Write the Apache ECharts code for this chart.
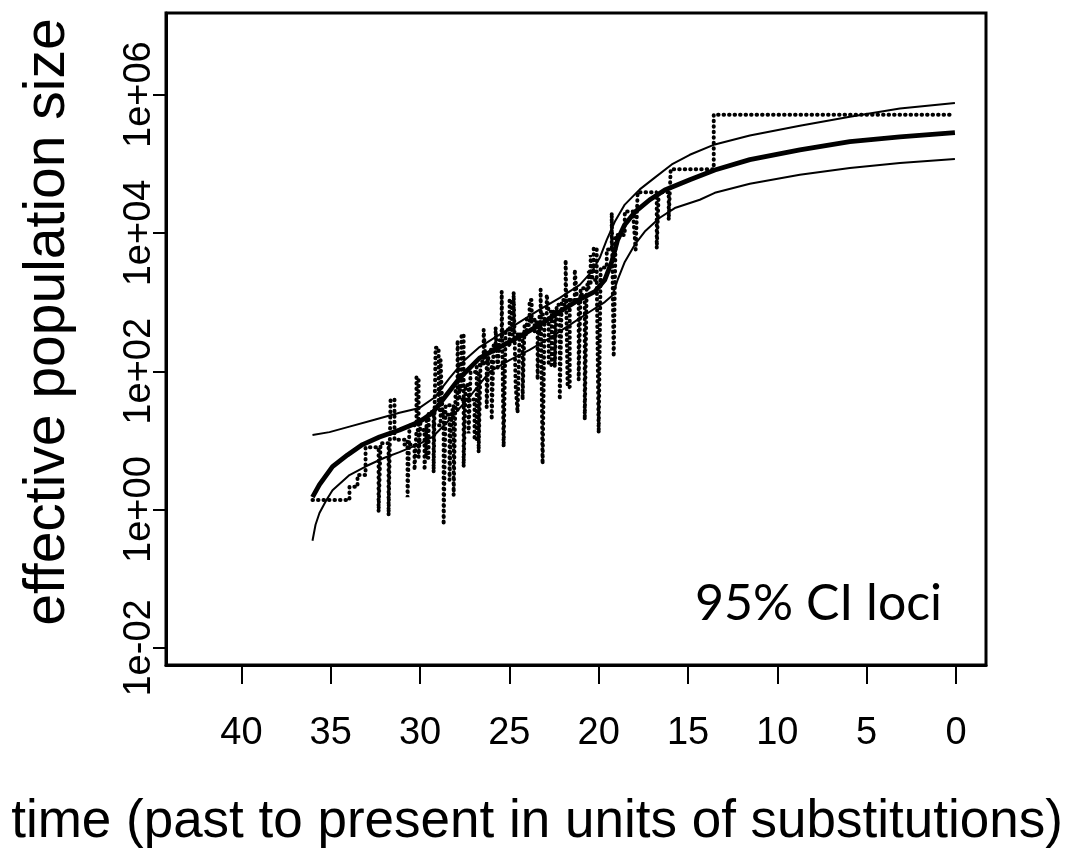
<!DOCTYPE html>
<html><head><meta charset="utf-8">
<script src="https://cdn.jsdelivr.net/npm/echarts@6/dist/echarts.min.js"></script>
<style>html,body{margin:0;padding:0;background:#fff}#c{width:1072px;height:849px}</style>
</head><body><div id="c"></div>
<script>
// x: time (past to present, substitutions); y: log10(effective population size)
const xTicks = [0, 5, 10, 15, 20, 25, 30, 35, 40];
const yTickExp = [-2, 0, 2, 4, 6];
const yTickLabels = ['1e-02', '1e+00', '1e+02', '1e+04', '1e+06'];

const medianT   = [36.02,35.63,34.9,34.06,33.22,32.27,31.15,30.03,29.3,28.63,27.79,26.67,25.55,24.43,23.31,22.18,21.06,20.22,19.66,19.27,18.94,18.54,17.98,17.14,16.3,14.9,13.5,11.54,8.74,5.94,3.14,0.06];
const medianLog = [0.18,0.36,0.62,0.79,0.94,1.05,1.15,1.27,1.40,1.62,1.90,2.19,2.35,2.50,2.67,2.86,3.04,3.15,3.32,3.58,3.90,4.12,4.30,4.48,4.62,4.77,4.91,5.06,5.20,5.32,5.39,5.45];

const upperT   = [36.02,35.07,33.95,32.55,31.15,30.03,29.19,28.35,27.51,26.67,25.55,24.43,23.31,22.18,21.06,20.39,19.94,19.55,19.1,18.54,17.7,16.86,15.91,14.9,13.5,11.54,8.74,5.94,3.14,0.06];
const upperLog = [1.08,1.12,1.20,1.30,1.40,1.47,1.62,1.90,2.16,2.35,2.53,2.71,2.89,3.06,3.25,3.44,3.64,3.90,4.16,4.41,4.63,4.80,4.99,5.13,5.28,5.41,5.55,5.68,5.80,5.88];

const lowerT   = [36.02,35.85,35.63,35.24,34.9,33.95,33.0,31.99,31.15,30.03,29.3,28.35,27.23,26.11,24.99,23.87,22.75,21.62,20.5,19.66,19.22,18.94,18.54,17.98,17.42,16.58,15.74,14.34,13.5,11.54,8.74,5.94,3.14,0.06];
const lowerLog = [-0.45,-0.22,-0.05,0.14,0.28,0.50,0.63,0.75,0.83,0.95,1.05,1.30,1.63,1.99,2.16,2.31,2.48,2.67,2.86,3.00,3.10,3.32,3.58,3.83,4.02,4.22,4.36,4.48,4.58,4.71,4.84,4.94,5.01,5.07];

// skyline (step) estimates: each value holds until the next time point
const skyT   = [36.02,33.95,33.5,33.05,32.32,32.21,31.76,31.65,31.43,30.7,30.59,30.2,30.08,29.97,29.64,29.52,29.24,29.13,28.96,28.68,28.57,28.12,28.01,27.68,27.56,27.45,27.28,27.17,26.72,26.61,26.27,26.16,25.77,25.66,25.55,25.43,25.32,25.21,24.76,24.65,24.54,24.43,24.03,23.59,23.25,23.14,23.03,22.8,22.63,22.46,22.35,21.85,21.74,21.62,21.12,21.01,20.56,20.28,20.11,20.0,19.89,19.55,19.27,19.16,19.05,18.54,18.04,17.93,17.82,16.75,16.64,16.08,15.97,13.56,0.34];
const skyLog = [0.14,0.33,0.50,0.90,-0.03,0.96,-0.08,1.59,1.01,0.18,1.22,1.91,0.76,1.30,0.75,1.41,0.54,2.34,1.44,-0.22,1.51,0.21,1.73,2.53,0.62,1.80,1.10,1.99,0.83,2.14,1.48,2.31,2.63,2.02,2.45,3.15,0.91,2.60,3.14,1.80,1.40,2.53,2.77,2.57,3.18,0.66,2.77,2.09,2.86,2.06,2.96,3.61,1.77,3.03,1.88,3.20,3.44,3.78,3.32,1.11,3.50,3.76,4.29,2.21,3.97,4.31,4.15,3.76,4.59,3.78,4.59,4.19,4.92,5.71,5.71];

const sky2T   = [30.87,30.31,30.2,29.75,29.64,28.85,28.74,28.35,28.24,27.9,27.79,26.95,26.83,26.44,26.33,25.99,25.88,24.99,24.87,24.26,24.15,23.87,23.75,23.42,23.31,22.91,22.8,22.18,22.07,21.34,21.23,20.78,20.67,20.45,20.34,19.83];
const sky2Log = [0.94,0.57,1.15,0.57,1.22,2.16,1.37,0.43,1.44,2.45,1.59,1.01,2.09,2.60,2.16,1.30,2.38,3.03,2.53,1.59,2.67,3.03,2.71,1.88,2.82,3.11,2.86,1.59,3.03,3.47,3.11,1.30,3.25,3.68,3.32,3.32];

const zip = (a, b) => a.map((v, i) => [v, b[i]]);
const chart = echarts.init(document.getElementById('c'), null, {renderer: 'canvas'});
const FONT = '"Liberation Sans", Arial, sans-serif';
const dotStyle = {color: '#000', width: 4, type: [0.5, 5], cap: 'round'};

chart.setOption({
  animation: false,
  backgroundColor: '#fff',
  grid: {left: 166, top: 13, right: 86, bottom: 184, show: true, borderColor: '#000', borderWidth: 3, backgroundColor: 'transparent'},
  xAxis: {
    type: 'value', inverse: true, min: -1.68, max: 44.22,
    axisLine: {show: true, onZero: false, lineStyle: {color: '#000', width: 3}},
    splitLine: {show: false},
    axisTick: {show: true, length: 19, lineStyle: {color: '#000', width: 2}, customValues: xTicks},
    axisLabel: {customValues: xTicks, color: '#000', fontSize: 38, fontFamily: FONT, margin: 50}
  },
  yAxis: {
    type: 'value', min: -2.247, max: 7.18,
    axisLine: {show: true, onZero: false, lineStyle: {color: '#000', width: 3}},
    splitLine: {show: false},
    axisTick: {show: true, length: 13, lineStyle: {color: '#000', width: 2}, customValues: yTickExp},
    axisLabel: {customValues: yTickExp, rotate: 90, color: '#000', fontSize: 38, fontFamily: FONT, margin: 7,
      formatter: v => yTickLabels[yTickExp.indexOf(Math.round(v))]}
  },
  series: [
    {type: 'line', name: 'skyline', data: zip(skyT, skyLog), step: 'end', showSymbol: false, z: 2, lineStyle: dotStyle},
    {type: 'line', name: 'skyline2', data: zip(sky2T, sky2Log), step: 'end', showSymbol: false, z: 2, lineStyle: dotStyle},
    {type: 'line', name: 'upper', data: zip(upperT, upperLog), showSymbol: false, z: 3,
      lineStyle: {color: '#000', width: 2}},
    {type: 'line', name: 'lower', data: zip(lowerT, lowerLog), showSymbol: false, z: 3,
      lineStyle: {color: '#000', width: 2}},
    {type: 'line', name: 'median', data: zip(medianT, medianLog), showSymbol: false, z: 4,
      lineStyle: {color: '#000', width: 4.8}}
  ],
  graphic: [
    {type: 'text', x: 537, y: 822, style: {text: 'time (past to present in units of substitutions)', font: '53px ' + FONT, fill: '#000', align: 'center', verticalAlign: 'middle'}},
    {type: 'text', x: 48, y: 322, rotation: Math.PI / 2, style: {text: 'effective population size', font: '57px ' + FONT, fill: '#000', align: 'center', verticalAlign: 'middle'}},
    {type: 'text', x: 695, y: 604, style: {text: '95% CI loci', font: '50px Lato, "Open Sans", sans-serif', fill: '#000', align: 'left', verticalAlign: 'middle'}}
  ]
});
</script></body></html>
